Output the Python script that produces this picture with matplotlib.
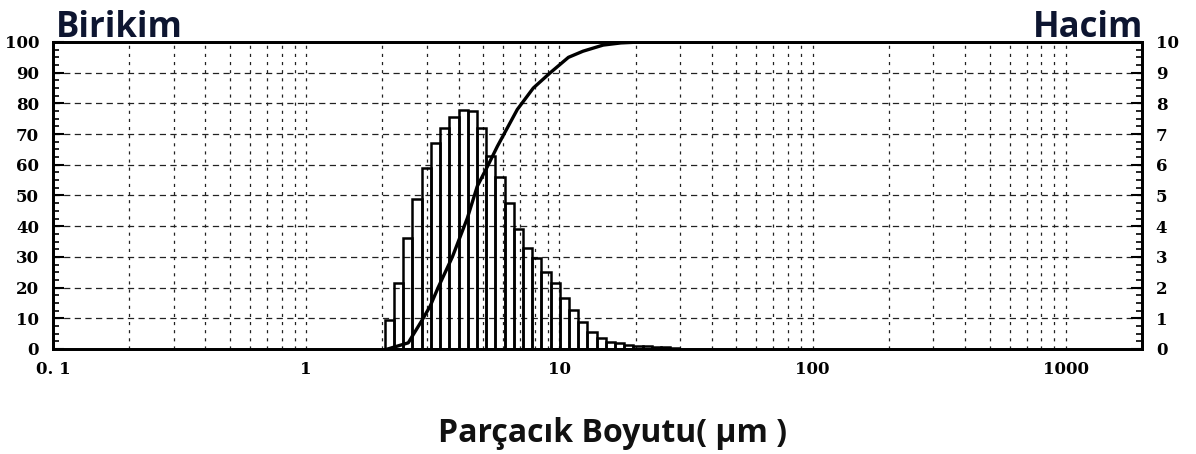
import numpy as np
import matplotlib
matplotlib.use("Agg")
import matplotlib.pyplot as plt
from matplotlib.ticker import FixedLocator, MultipleLocator, NullFormatter

# particle size bin edges (um) and volume per bin (%)
bin_edges = [2.05, 2.23, 2.42, 2.63, 2.86, 3.11, 3.39, 3.68, 4.00, 4.35, 4.73,
             5.14, 5.59, 6.08, 6.61, 7.19, 7.81, 8.49, 9.23, 10.04, 10.91,
             11.87, 12.90, 14.03, 15.25, 16.58, 18.03, 19.60, 21.31, 23.17,
             25.19, 27.38, 29.77]
hacim = [0.94, 2.15, 3.6, 4.9, 5.9, 6.7, 7.2, 7.56, 7.8, 7.75, 7.2, 6.3,
         5.6, 4.75, 3.9, 3.3, 2.96, 2.5, 2.15, 1.66, 1.27, 0.88, 0.55, 0.36,
         0.23, 0.18, 0.14, 0.11, 0.09, 0.07, 0.05, 0.04]

# cumulative curve (%)
cum_size = [2.1, 2.53, 2.87, 3.09, 3.32, 3.78, 4.33, 4.74, 5.24, 5.69, 6.82,
            7.89, 9.21, 10.86, 12.4, 14.9, 17.5, 20.9, 30, 98]
birikim = [0, 2, 9.4, 14, 20, 30, 42.6, 53, 60, 66, 78,
           85, 90, 95, 97, 99, 99.7, 100, 100, 100]

x_ticks = [0.1, 1, 10, 100, 1000]
x_ticklabels = ["0. 1", "1", "10", "100", "1000"]
left_ticks = list(range(0, 101, 10))
right_ticks = list(range(0, 11))

tick_font = {"family": "DejaVu Serif", "weight": "bold", "size": 12}
title_color = "#0d1530"

fig = plt.figure(figsize=(11.96, 4.54), dpi=100, facecolor="white")
ax = fig.add_axes([0.0443, 0.2313, 0.9105, 0.6762])
ax2 = ax.twinx()

ax.set_xscale("log")
ax.set_xlim(0.1, 2000)

# dashed grid at every log tick and every 10 %
grid_x = [m * 10.0 ** e for e in range(-1, 4) for m in range(1, 10)]
grid_x = [g for g in grid_x if 0.1 < g < 2000]
for g in grid_x:
    ax.axvline(g, color="#222222", lw=0.9, ls=(0, (2.5, 4)), zorder=1)
for h in left_ticks[1:-1]:
    ax.axhline(h, color="#222222", lw=0.9, ls=(0, (5, 3.5)), zorder=1)

# volume histogram (right axis)
widths = np.diff(bin_edges)
ax2.bar(bin_edges[:-1], hacim, width=widths, align="edge",
        facecolor="none", edgecolor="black", lw=1.8, zorder=3)

# cumulative curve (left axis)
ax.plot(cum_size, birikim, color="black", lw=2.4, zorder=4)

# ticks
ax.xaxis.set_major_locator(FixedLocator(x_ticks))
ax.set_xticklabels(x_ticklabels, fontdict=tick_font)
ax.xaxis.set_minor_formatter(NullFormatter())
ax.tick_params(axis="x", which="both", length=0, pad=9)

ax.set_yticks(left_ticks)
ax.set_yticklabels([str(v) for v in left_ticks], fontdict=tick_font)
ax.yaxis.set_minor_locator(MultipleLocator(2.5))
ax.tick_params(axis="y", which="major", direction="in", length=8, width=1.5, pad=10)
ax.tick_params(axis="y", which="minor", direction="in", length=4, width=1.2)
ax.set_ylim(0, 100)

ax2.set_yticks(right_ticks)
ax2.set_yticklabels([str(v) for v in right_ticks], fontdict=tick_font)
ax2.yaxis.set_minor_locator(MultipleLocator(0.25))
ax2.tick_params(axis="y", which="major", direction="in", length=8, width=1.5, pad=10)
ax2.tick_params(axis="y", which="minor", direction="in", length=4, width=1.2)
ax2.set_ylim(0, 10)

for a in (ax, ax2):
    for s in a.spines.values():
        s.set_linewidth(2)

# titles
fig.text(0.047, 0.918, "Birikim", fontsize=25, fontweight="bold",
         family="Open Sans", color=title_color, ha="left", va="baseline")
fig.text(0.956, 0.918, "Hacim", fontsize=25, fontweight="bold",
         family="Open Sans", color=title_color, ha="right", va="baseline")
fig.text(0.512, 0.026, "Parçacık Boyutu( µm )", fontsize=23, fontweight="bold",
         family="Open Sans", color="#111111", ha="center", va="baseline")

fig.savefig("out.png", dpi=100, facecolor="white")
